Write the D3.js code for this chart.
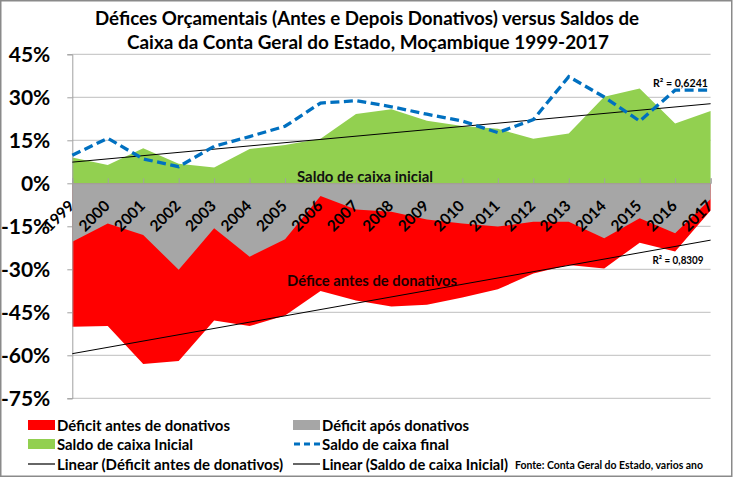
<!DOCTYPE html>
<html><head><meta charset="utf-8">
<script src="https://cdn.jsdelivr.net/npm/d3@7"></script>
<style>body{margin:0;background:#fff}svg{display:block}text{font-family:Lato,"Open Sans",sans-serif;font-weight:bold}</style>
</head><body>
<script>
const years = [1999,2000,2001,2002,2003,2004,2005,2006,2007,2008,2009,2010,2011,2012,2013,2014,2015,2016,2017];
const saldoInicial = [9.0,6.4,12.2,6.8,5.5,12.0,13.4,15.5,24.2,25.8,21.8,20.0,19.0,15.5,17.4,30.2,33.1,20.9,25.2];
const saldoFinal = [9.8,15.7,8.5,5.8,12.9,16.3,19.9,28.0,28.8,26.7,24.1,21.7,17.7,22.2,37.2,30.1,21.7,32.5,32.5];
const deficitAntes = [-50.0,-49.8,-63.0,-62.0,-47.9,-49.8,-46.1,-37.6,-40.9,-43.0,-42.4,-39.8,-37.0,-31.5,-28.5,-29.7,-20.7,-23.8,-9.5];
const deficitApos = [-20.4,-14.0,-18.0,-30.2,-15.7,-25.6,-19.5,-4.4,-9.1,-9.9,-12.6,-14.0,-15.1,-13.4,-13.4,-19.2,-12.2,-17.4,-5.5];
const yTicks = [45,30,15,0,-15,-30,-45,-60,-75];
const titleLines = ["Défices Orçamentais (Antes e Depois Donativos) versus Saldos de","Caixa da Conta Geral do Estado, Moçambique 1999-2017"];
const r2Saldo = "R² = 0,6241", r2Deficit = "R² = 0,8309";
const labelSaldo = "Saldo de caixa inicial", labelDeficit = "Défice antes de donativos";
const legendItems = ["Déficit antes de donativos","Déficit após donativos","Saldo de caixa Inicial","Saldo de caixa final","Linear (Déficit antes de donativos)","Linear (Saldo de caixa Inicial)"];
const sourceText = "Fonte: Conta Geral do Estado, varios ano";

const W=733,H=478;
const svg=d3.select("body").append("svg").attr("width",W).attr("height",H);
svg.append("rect").attr("x",0.75).attr("y",0.75).attr("width",W-2).attr("height",H-2.5).attr("fill","#fff").attr("stroke","#8a8a8a").attr("stroke-width",1.5);

const x=d3.scalePoint().domain(years).range([72.3,710.6]);
const y=d3.scaleLinear().domain([-75,45]).range([398.3,54.3]);

function fit(sel,len){return sel.attr("textLength",len).attr("lengthAdjust","spacingAndGlyphs");}

// title
svg.append("text").attr("x",367).attr("y",25).attr("text-anchor","middle").attr("font-size",18.5).text(titleLines[0]).call(fit,544);
svg.append("text").attr("x",368).attr("y",49).attr("text-anchor","middle").attr("font-size",18.5).text(titleLines[1]).call(fit,482);

// gridlines
svg.append("g").selectAll("line").data(yTicks).join("line")
  .attr("x1",72.3).attr("x2",710.6).attr("y1",d=>y(d)).attr("y2",d=>y(d))
  .attr("stroke","#bfbfbf").attr("stroke-width",1);

const idx=d3.range(years.length);
const area0=(arr)=>d3.area().x(i=>x(years[i])).y0(y(0)).y1(i=>y(arr[i]));
svg.append("path").attr("d",area0(deficitAntes)(idx)).attr("fill","#ff0000");
svg.append("path").attr("d",area0(deficitApos)(idx)).attr("fill","#a6a6a6");
svg.append("path").attr("d",area0(saldoInicial)(idx)).attr("fill","#92d050");

// axes
const yAxis=d3.axisLeft(y).tickValues(yTicks).tickSize(5).tickFormat(d=>d+"%");
const gy=svg.append("g").attr("transform","translate(72.3,0)").call(yAxis);
gy.select(".domain").attr("stroke","#a0a0a0");
gy.selectAll(".tick line").attr("stroke","#a0a0a0");
gy.selectAll(".tick text").attr("font-size",21).attr("fill","#000").attr("x",-22).attr("font-family","Lato").attr("font-weight","bold");

const xAxis=d3.axisTop(x).tickSize(5).tickFormat(()=>"");
const gx=svg.append("g").attr("transform",`translate(0,${y(0)})`).call(xAxis);
gx.select(".domain").attr("stroke","#a0a0a0");
gx.selectAll(".tick line").attr("stroke","#a0a0a0");

// trend lines
function linreg(arr){const n=arr.length,mx=(n-1)/2,my=d3.mean(arr);let sxy=0,sxx=0;arr.forEach((v,i)=>{sxy+=(i-mx)*(v-my);sxx+=(i-mx)*(i-mx);});const b=sxy/sxx;return i=>my+b*(i-mx);}
const fS=linreg(saldoInicial), fD=linreg(deficitAntes);
const last=years.length-1;
[fS,fD].forEach(f=>svg.append("line").attr("x1",x(years[0])).attr("y1",y(f(0))).attr("x2",x(years[last])).attr("y2",y(f(last))).attr("stroke","#000").attr("stroke-width",1));

// dashed line
svg.append("path").attr("d",d3.line().x(i=>x(years[i])).y(i=>y(saldoFinal[i]))(idx))
  .attr("fill","none").attr("stroke","#0070c0").attr("stroke-width",3.3).attr("stroke-dasharray","9,4.5");

// x labels
svg.append("g").selectAll("text").data(years).join("text")
  .attr("transform",d=>`translate(${x(d)+3},207) rotate(-45)`).attr("text-anchor","end")
  .attr("font-size",15.5).text(d=>d);

// in-chart labels
svg.append("text").attr("x",297).attr("y",181.5).attr("font-size",15).attr("fill","#111").text(labelSaldo).call(fit,136);
svg.append("text").attr("x",287).attr("y",286).attr("font-size",15).attr("fill","#1a0000").text(labelDeficit).call(fit,170);
svg.append("text").attr("x",653).attr("y",87).attr("font-size",11).text(r2Saldo).call(fit,55);
svg.append("text").attr("x",652.5).attr("y",264).attr("font-size",11).text(r2Deficit).call(fit,51);

// legend
const lg=svg.append("g");
const cols=[28,293], rows=[425,444,464];
const lw=[173,147,136,127,226,186];
legendItems.forEach((t,k)=>{
  const cx=cols[k%2], cy=rows[Math.floor(k/2)];
  if(k===0||k===1||k===2){lg.append("rect").attr("x",cx).attr("y",cy-5).attr("width",27).attr("height",10).attr("fill",["#ff0000","#a6a6a6","#92d050"][k]);}
  else if(k===3){lg.append("line").attr("x1",cx+1).attr("x2",cx+27).attr("y1",cy).attr("y2",cy).attr("stroke","#0070c0").attr("stroke-width",3).attr("stroke-dasharray","6,4");}
  else {lg.append("line").attr("x1",cx).attr("x2",cx+27).attr("y1",cy).attr("y2",cy).attr("stroke","#000").attr("stroke-width",1.2);}
  lg.append("text").attr("x",cx+29).attr("y",cy+5.5).attr("font-size",15).text(t).call(fit,lw[k]);
});
svg.append("text").attr("x",515).attr("y",468.5).attr("font-size",10.5).text(sourceText).call(fit,188);
</script>
</body></html>
